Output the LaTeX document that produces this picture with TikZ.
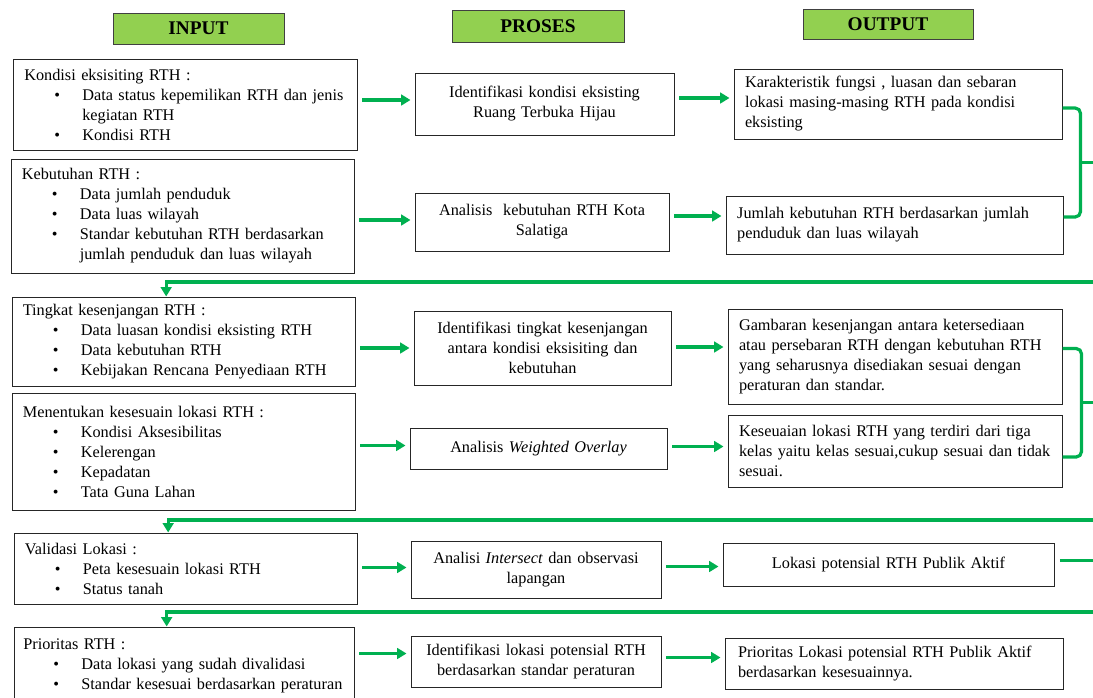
\documentclass[tikz,border=0pt]{standalone}
\usepackage{fontspec}
\setmainfont{Liberation Serif}
\usepackage{enumitem}
\usepackage{tikz}
\usetikzlibrary{positioning,arrows.meta,calc}
\definecolor{hdrgreen}{RGB}{146,208,80}
\definecolor{flowgreen}{RGB}{0,176,80}
\setlist[itemize]{label=\textbullet,nosep,leftmargin=43.5pt,labelindent=22.5pt,labelwidth=6pt,labelsep=*,align=left}

\begin{document}
\begin{tikzpicture}[x=0.75pt,y=-0.75pt,
  cell/.style n args={4}{at={({(#1+#3)/2},{(#2+#4)/2})},minimum width={(#3-#1)*0.75pt},minimum height={(#4-#2)*0.75pt}},
  box/.style={draw=black!85,line width=0.75pt,inner sep=0pt,font=\fontsize{12.2}{15}\selectfont},
  inbox/.style={box,text width=241pt,align=left},
  midbox/.style={box,text width=180pt,align=center},
  outbox/.style={box,text width=#1,align=left},
  hdr/.style={draw=black!75,line width=0.75pt,fill=hdrgreen,inner sep=0pt,font=\bfseries\fontsize{14.5}{16}\selectfont},
  flow/.style={draw=flowgreen,line width=2.4pt,-{Triangle[length=7pt,width=8pt]}},
  hop/.style={flow,shorten <=3.5pt,shorten >=3pt},
  link/.style={draw=flowgreen,line width=2.4pt,rounded corners=4pt}]
\useasboundingbox (0,0) rectangle (1093,697);
\clip (0,0) rectangle (1093,697);
% ---- column headers ----
\node[hdr,cell={113}{13}{284}{44}] (hin) {INPUT};
\node[hdr,cell={452}{10}{624}{42}] (hpro) {PROSES};
\node[hdr,cell={803}{9}{973}{39}] (hout) {OUTPUT};
% ---- input column ----
\node[inbox,cell={13}{59}{357}{150}] (k1) {Kondisi eksisiting RTH :
\begin{itemize}
\item Data status kepemilikan RTH dan jenis kegiatan RTH
\item Kondisi RTH
\end{itemize}};
\node[inbox,cell={11}{159}{354}{273}] (k2) {Kebutuhan RTH :
\begin{itemize}
\item Data jumlah penduduk
\item Data luas wilayah
\item Standar kebutuhan RTH berdasarkan jumlah penduduk dan luas wilayah
\end{itemize}};
\node[inbox,cell={12}{297}{355}{386}] (k3) {Tingkat kesenjangan RTH :
\begin{itemize}
\item Data luasan kondisi eksisting RTH
\item Data kebutuhan RTH
\item Kebijakan Rencana Penyediaan RTH
\end{itemize}};
\node[inbox,cell={12}{393}{355}{510}] (k4) {Menentukan kesesuain lokasi RTH :
\begin{itemize}
\item Kondisi Aksesibilitas
\item Kelerengan
\item Kepadatan
\item Tata Guna Lahan
\end{itemize}};
\node[inbox,cell={14}{533}{357}{604}] (k5) {Validasi Lokasi :
\begin{itemize}
\item Peta kesesuain lokasi RTH
\item Status tanah
\end{itemize}};
\node[inbox,cell={14}{627}{354}{705}] (k6) {Prioritas RTH :
\begin{itemize}
\item Data lokasi yang sudah divalidasi
\item Standar kesesuai berdasarkan peraturan
\end{itemize}\vspace{10.5pt}};
% ---- proses column ----
\node[midbox,cell={415}{73}{674}{135}] (p1) {Identifikasi kondisi eksisting\\Ruang Terbuka Hijau\\[4pt]};
\node[midbox,cell={415}{193}{669}{251}] (p2) {Analisis~ kebutuhan RTH Kota\\Salatiga\\[4pt]};
\node[midbox,cell={414}{311}{671}{385}] (p3) {Identifikasi tingkat kesenjangan\\antara kondisi eksisiting dan\\kebutuhan};
\node[midbox,cell={410}{428}{667}{469}] (p4) {Analisis \textit{Weighted Overlay}};
\node[midbox,cell={411}{541}{661}{598}] (p5) {Analisi \textit{Intersect} dan observasi\\lapangan\\[4pt]};
\node[midbox,cell={411}{636}{661}{687}] (p6) {Identifikasi lokasi potensial RTH\\berdasarkan standar peraturan};
% ---- output column ----
\node[outbox=229.5pt,cell={734}{69}{1062}{139}] (o1) {Karakteristik fungsi , luasan dan sebaran\\lokasi masing-masing RTH pada kondisi\\eksisting};
\node[outbox=236pt,cell={726}{196}{1063}{254}] (o2) {Jumlah kebutuhan RTH berdasarkan jumlah\\penduduk dan luas wilayah};
\node[outbox=234pt,cell={728}{309}{1062}{404}] (o3) {Gambaran kesenjangan antara ketersediaan\\atau persebaran RTH dengan kebutuhan RTH\\yang seharusnya disediakan sesuai dengan\\peraturan dan standar.};
\node[outbox=234pt,cell={728}{415}{1062}{487}] (o4) {Keseuaian lokasi RTH yang terdiri dari tiga\\kelas yaitu kelas sesuai,cukup sesuai dan tidak\\sesuai.};
\node[midbox,text width=230pt,cell={723}{543}{1054}{586}] (o5) {Lokasi potensial RTH Publik Aktif};
\node[outbox=234pt,cell={725}{638}{1063}{689}] (o6) {Prioritas Lokasi potensial RTH Publik Aktif\\berdasarkan kesesuainnya.};
% ---- input -> proses -> output (row offsets in px) ----
\foreach \i/\a/\b in {1/-4/-6,2/-2/-6,3/0/-1,4/-3/-2,5/-2/-3,6/-8/-4}{
  \coordinate (ain) at ($(p\i.west)+(0,\a)$);
  \coordinate (aout) at ($(p\i.east)+(0,\b)$);
  \draw[hop] (k\i.east |- ain) -- (ain);
  \draw[hop] (aout) -- (aout -| o\i.west);
}
% ---- feedback to next input ----
\coordinate (back1) at (1100,282);
\coordinate (back2) at (1100,520);
\coordinate (back3) at (1100,612);
\draw[link] ($(o1.east)+(0,4)$) -- ++(18,0) coordinate (r1) |- ($(o2.east)+(0,-8)$) coordinate (s1);
\coordinate (j1) at ($(r1)!.5!(r1 |- s1)$);
\draw[flow] (j1) -- (j1 -| back1) -- (back1) -| ([xshift=-13pt]k3.north);
\draw[link] ($(o3.east)+(0,-8)$) -- ++(19,0) coordinate (r2) |- ($(o4.east)+(0,6)$) coordinate (s2);
\coordinate (j2) at ($(r2)!.5!(r2 |- s2)$);
\draw[flow] (j2) -- (j2 -| back2) -- (back2) -| ([xshift=-13pt]k5.north);
\draw[flow,shorten <=4pt] ($(o5.east)+(0,-4)$) -- ++(60,0) |- (back3) -| ([xshift=-13pt]k6.north);
\end{tikzpicture}
\end{document}
